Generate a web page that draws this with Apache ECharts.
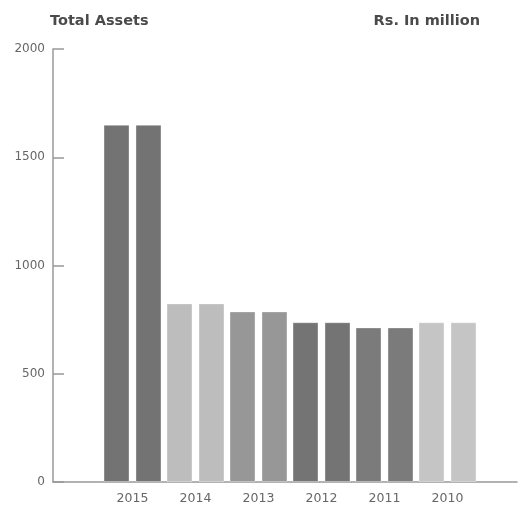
<!DOCTYPE html>
<html><head><meta charset="utf-8">
<script src="https://cdn.jsdelivr.net/npm/echarts@6/dist/echarts.min.js"></script>
<style>html,body{margin:0;padding:0;background:#fff}#c{width:520px;height:506px}</style>
</head><body><div id="c"></div>
<script>
const categories = ['2015','2014','2013','2012','2011','2010'];
const seriesA = [1650, 825, 788, 738, 714, 738];
const seriesB = [1650, 825, 788, 738, 714, 738];
const barColors = ['#737373','#bdbdbd','#979797','#747474','#7b7b7b','#c5c5c5'];
const yTicks = [0, 500, 1000, 1500, 2000];

const chart = echarts.init(document.getElementById('c'));
const mk = vals => vals.map((v,i)=>({value:v,itemStyle:{color:barColors[i]}}));
const F = 'DejaVu Sans, Verdana, sans-serif';
chart.setOption({
  animation:false,
  title:[
    {text:'Total Assets',left:45,top:9,textStyle:{fontFamily:F,fontSize:14.5,fontWeight:'bold',color:'#4a4a4a'}},
    {text:'Rs. In million',right:35,top:9,textStyle:{fontFamily:F,fontSize:14.5,fontWeight:'bold',color:'#4a4a4a'}}
  ],
  grid:[
    {left:53,right:3,top:49,bottom:24},
    {left:101,right:41,top:49,bottom:24}
  ],
  xAxis:[
    {type:'category',gridIndex:0,data:[''],axisLine:{lineStyle:{color:'#999',width:1.5}},axisTick:{show:false},axisLabel:{show:false}},
    {type:'category',gridIndex:1,data:categories,axisLine:{show:false},axisTick:{show:false},
     axisLabel:{margin:10,fontFamily:F,fontSize:12.5,color:'#666'}}
  ],
  yAxis:[
    {type:'value',gridIndex:0,min:yTicks[0],max:yTicks[yTicks.length-1],interval:500,
     axisLine:{show:true,lineStyle:{color:'#999',width:1.5}},
     axisTick:{show:true,inside:true,length:11,lineStyle:{color:'#999',width:1.5}},
     axisLabel:{margin:8,fontFamily:F,fontSize:12,color:'#666',formatter:v=>String(v),padding:[3,0,0,0]},
     splitLine:{show:false}},
    {type:'value',gridIndex:1,min:yTicks[0],max:yTicks[yTicks.length-1],show:false,splitLine:{show:false}}
  ],
  series:[
    {type:'bar',xAxisIndex:1,yAxisIndex:1,data:mk(seriesA),barWidth:26,barGap:'23%',
     itemStyle:{borderColor:'rgba(255,255,255,0.35)',borderWidth:1}},
    {type:'bar',xAxisIndex:1,yAxisIndex:1,data:mk(seriesB),barWidth:26,barGap:'23%',
     itemStyle:{borderColor:'rgba(255,255,255,0.35)',borderWidth:1}}
  ]
});
</script></body></html>
